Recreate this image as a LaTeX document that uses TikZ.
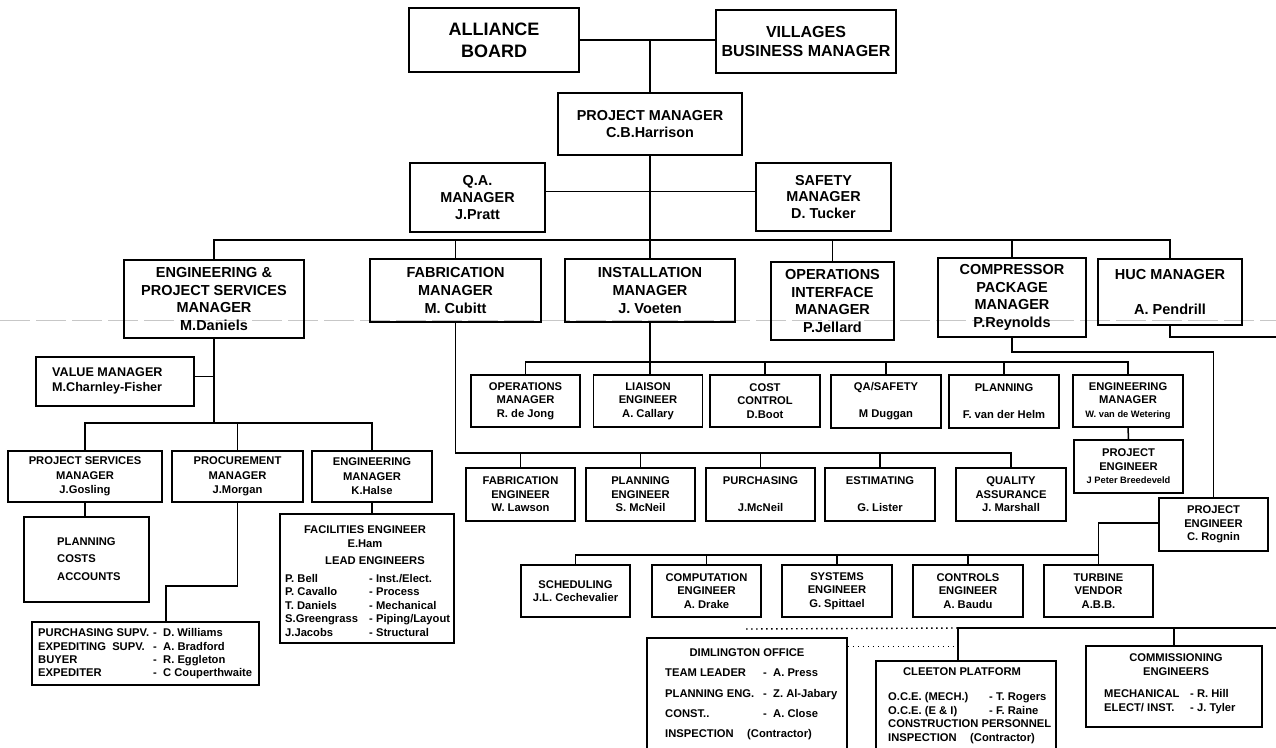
\documentclass[tikz,border=0pt]{standalone}
\usepackage{fontspec}
\setmainfont{Liberation Sans}
\begin{document}
\begin{tikzpicture}[x=1pt,y=-1pt,
  box/.style={draw=black, line width=1.6pt, inner sep=0pt, align=center, text=black, font=\bfseries\fontsize{11.2}{13.6}\selectfont},
  big/.style={font=\bfseries\fontsize{14.5}{17.6}\selectfont},
  txt/.style={inner sep=0pt, text=black, font=\bfseries\fontsize{11.2}{13.5}\selectfont},
  conn/.style={draw=black, line width=1.5pt},
  dots/.style={draw=black, line width=1.4pt, dash pattern=on 1.6pt off 3.4pt},
]
\useasboundingbox (0,0) rectangle (1276,747);
\clip (0,0) rectangle (1276,747);
\fill[white] (0,0) rectangle (1276,747);
\draw[black!22, line width=0.7pt, dash pattern=on 30pt off 6pt] (0,320) -- (1276,320);

% ---------- top ----------
\node[box, font=\bfseries\fontsize{18}{21.7}\selectfont, minimum width=170, minimum height=64] (alliance) at (494,40) {ALLIANCE\\BOARD};
\node[box, font=\bfseries\fontsize{16}{19.3}\selectfont, minimum width=180, minimum height=63] (villages) at (806,41.5) {VILLAGES\\BUSINESS MANAGER};
\node[box, font=\bfseries\fontsize{14.4}{17.7}\selectfont, minimum width=184, minimum height=62] (pm) at (650,124) {PROJECT MANAGER\\C.B.Harrison};
\node[box, font=\bfseries\fontsize{14.4}{16.7}\selectfont, minimum width=135, minimum height=69] (qa) at (477.5,197.5) {Q.A.\\MANAGER\\J.Pratt};
\node[box, font=\bfseries\fontsize{14.4}{16.7}\selectfont, minimum width=135, minimum height=68] (safety) at (823.5,197) {SAFETY\\MANAGER\\D. Tucker};

% ---------- level 2 ----------
\node[box, big, minimum width=180, minimum height=78] (eng) at (214,299) {ENGINEERING \&\\PROJECT SERVICES\\MANAGER\\M.Daniels};
\node[box, big, minimum width=171, minimum height=63] (fab) at (455.5,290.5) {FABRICATION\\MANAGER\\M. Cubitt};
\node[box, big, minimum width=170, minimum height=63] (inst) at (650,290.5) {INSTALLATION\\MANAGER\\J. Voeten};
\node[box, big, minimum width=123, minimum height=78] (ops) at (832.5,301) {OPERATIONS\\INTERFACE\\MANAGER\\P.Jellard};
\node[box, big, minimum width=148, minimum height=79] (comp) at (1012,297.5) {COMPRESSOR\\PACKAGE\\MANAGER\\P.Reynolds};
\node[box, big, minimum width=144, minimum height=66] (huc) at (1170,292) {HUC MANAGER\\\mbox{}\\A. Pendrill};

% ---------- engineering subtree ----------
\node[box, minimum width=158, minimum height=49] (value) at (115,381.5) {};
\node[txt, anchor=west, align=left, font=\bfseries\fontsize{12.6}{15}\selectfont] (valuetxt) at (52,380.5) {VALUE MANAGER\\M.Charnley-Fisher};
\node[box, font=\bfseries\fontsize{11.2}{14.6}\selectfont, minimum width=154, minimum height=51] (psm) at (85,476.5) {PROJECT SERVICES\\MANAGER\\J.Gosling};
\node[box, font=\bfseries\fontsize{11.2}{14.6}\selectfont, minimum width=131, minimum height=51] (proc) at (237.5,476.5) {PROCUREMENT\\MANAGER\\J.Morgan};
\node[box, font=\bfseries\fontsize{11.2}{14.6}\selectfont, minimum width=120, minimum height=51] (engm) at (372,476.5) {ENGINEERING\\MANAGER\\K.Halse};
\node[box, minimum width=125, minimum height=85] (pca) at (86.5,559.5) {};
\node[txt, anchor=west, align=left, font=\bfseries\fontsize{11.2}{17.5}\selectfont] (pcatxt) at (57,559) {PLANNING\\COSTS\\ACCOUNTS};
\node[box, minimum width=227, minimum height=63] (purch) at (145.5,653.5) {};
\node[txt, anchor=west, align=left, font=\bfseries\fontsize{11.2}{13.3}\selectfont] (purchtxt) at (38,654) {%
\makebox[115pt][l]{PURCHASING SUPV.}\makebox[10pt][l]{-}D. Williams\\
\makebox[115pt][l]{EXPEDITING\ \ SUPV.}\makebox[10pt][l]{-}A. Bradford\\
\makebox[115pt][l]{BUYER}\makebox[10pt][l]{-}R. Eggleton\\
\makebox[115pt][l]{EXPEDITER}\makebox[10pt][l]{-}C Couperthwaite};
\node[box, minimum width=174, minimum height=129] (fac) at (367,578.5) {};
\node[txt, align=center, font=\bfseries\fontsize{11.2}{13.3}\selectfont] (factitle) at (365,536.7) {FACILITIES ENGINEER\\E.Ham};
\node[txt] (faclead) at (375,560.7) {LEAD ENGINEERS};
\node[txt, anchor=west, align=left, font=\bfseries\fontsize{11.2}{13.5}\selectfont] (faclist) at (285,605.3) {%
\makebox[84pt][l]{P. Bell}- Inst./Elect.\\
\makebox[84pt][l]{P. Cavallo}- Process\\
\makebox[84pt][l]{T. Daniels}- Mechanical\\
\makebox[84pt][l]{S.Greengrass}- Piping/Layout\\
\makebox[84pt][l]{J.Jacobs}- Structural};

% ---------- installation subtree ----------
\node[box, minimum width=109, minimum height=52] (om) at (525.5,401) {OPERATIONS\\MANAGER\\R. de Jong};
\node[box, minimum width=109, minimum height=52] (li) at (648,401) {LIAISON\\ENGINEER\\A. Callary};
\node[box, minimum width=110, minimum height=52] (cc) at (765,401) {COST\\CONTROL\\D.Boot};
\node[box, minimum width=110, minimum height=53] (qs) at (886,401.5) {QA/SAFETY\\\mbox{}\\M Duggan};
\node[box, minimum width=110, minimum height=53] (pl) at (1004,401.5) {PLANNING\\\mbox{}\\F. van der Helm};
\node[box, minimum width=110, minimum height=52] (em) at (1128,401) {ENGINEERING\\MANAGER\\{\fontsize{9.3}{13.3}\selectfont W. van de Wetering}};
\node[box, minimum width=109, minimum height=53] (pe2) at (1128.5,466.5) {PROJECT\\ENGINEER\\{\fontsize{9.3}{13.3}\selectfont J Peter Breedeveld}};

% ---------- fabrication subtree ----------
\node[box, minimum width=109, minimum height=53] (fe) at (520.5,494.5) {FABRICATION\\ENGINEER\\W. Lawson};
\node[box, minimum width=109, minimum height=53] (pe) at (640.5,494.5) {PLANNING\\ENGINEER\\S. McNeil};
\node[box, minimum width=109, minimum height=53] (pur) at (760.5,494.5) {PURCHASING\\\mbox{}\\J.McNeil};
\node[box, minimum width=110, minimum height=53] (est) at (880,494.5) {ESTIMATING\\\mbox{}\\G. Lister};
\node[box, minimum width=110, minimum height=53] (qa2) at (1011,494.5) {QUALITY\\ASSURANCE\\J. Marshall};

% ---------- compressor subtree ----------
\node[box, minimum width=109, minimum height=53] (rog) at (1213.5,524.5) {PROJECT\\ENGINEER\\C. Rognin};
\node[box, minimum width=109, minimum height=52] (sch) at (575.5,591) {SCHEDULING\\J.L. Cechevalier};
\node[box, minimum width=109, minimum height=52] (comp2) at (706.5,591) {COMPUTATION\\ENGINEER\\A. Drake};
\node[box, minimum width=110, minimum height=52] (sys) at (837,591) {SYSTEMS\\ENGINEER\\G. Spittael};
\node[box, minimum width=110, minimum height=52] (ctl) at (968,591) {CONTROLS\\ENGINEER\\A. Baudu};
\node[box, minimum width=109, minimum height=52] (tur) at (1098.5,591) {TURBINE\\VENDOR\\A.B.B.};

% ---------- bottom ----------
\node[box, minimum width=200, minimum height=114] (dim) at (747,695) {};
\node[txt] (dimtitle) at (747,653) {DIMLINGTON OFFICE};
\node[txt, anchor=west, align=left, font=\bfseries\fontsize{11.2}{20.3}\selectfont] (dimlist) at (665,704.5) {%
\makebox[98pt][l]{TEAM LEADER}\makebox[10pt][l]{-}A. Press\\
\makebox[98pt][l]{PLANNING ENG.}\makebox[10pt][l]{-}Z. Al-Jabary\\
\makebox[98pt][l]{CONST..}\makebox[10pt][l]{-}A. Close\\
\makebox[82pt][l]{INSPECTION}(Contractor)};
\node[box, minimum width=180, minimum height=91] (cle) at (966,706.5) {};
\node[txt] (cletitle) at (962,672) {CLEETON PLATFORM};
\node[txt, anchor=west, align=left, font=\bfseries\fontsize{11.2}{13.5}\selectfont] (clelist) at (888,718) {%
\makebox[101pt][l]{O.C.E. (MECH.)}- T. Rogers\\
\makebox[101pt][l]{O.C.E. (E \& I)}- F. Raine\\
CONSTRUCTION PERSONNEL\\
\makebox[82pt][l]{INSPECTION}(Contractor)};
\node[box, minimum width=176, minimum height=81] (com) at (1174,686.5) {};
\node[txt, align=center, font=\bfseries\fontsize{11.2}{14}\selectfont] (comtitle) at (1176,665) {COMMISSIONING\\ENGINEERS};
\node[txt, anchor=west, align=left, font=\bfseries\fontsize{11.2}{13.3}\selectfont] (comlist) at (1104,701.5) {%
\makebox[86pt][l]{MECHANICAL}- R. Hill\\
\makebox[86pt][l]{ELECT/ INST.}- J. Tyler};

% ---------- connectors ----------
\coordinate (bus) at (0,240);
\coordinate (ebus) at (0,423);
\coordinate (ibus) at (0,362);
\coordinate (fbus) at (0,453);
\coordinate (rbus) at (0,555);
\coordinate (pbend) at (166,586);
\coordinate (hucR) at (1280,337);
\coordinate (cR) at (1280,628);
\coordinate (cdrop) at (958,628);
\coordinate (dotL) at (746,629);

\draw[conn] (alliance.east) -- (alliance.east -| villages.west);
\draw[conn] (pm.north) -- (pm.north |- alliance.east);
\draw[conn] ([yshift=6]qa.east) -- ([yshift=6]qa.east -| safety.west);
\draw[conn] (pm.south) -- (pm.south |- bus);
\draw[conn] (eng.north) -- (eng.north |- bus) -- (huc.north |- bus) -- (huc.north);
\draw[conn] (fab.north) -- (fab.north |- bus);
\draw[conn] (inst.north) -- (inst.north |- bus);
\draw[conn] (ops.north) -- (ops.north |- bus);
\draw[conn] (comp.north) -- (comp.north |- bus);

\draw[conn] (eng.south) -- (eng.south |- ebus);
\draw[conn] ([yshift=5]value.east) -- ([yshift=5]value.east -| eng.south);
\draw[conn] (psm.north) -- (psm.north |- ebus) -- (engm.north |- ebus) -- (engm.north);
\draw[conn] (proc.north) -- (proc.north |- ebus);
\draw[conn] (psm.south) -- (psm.south |- pca.north);
\draw[conn] (proc.south) |- (pbend) -- (pbend |- purch.north);
\draw[conn] (engm.south) -- (engm.south |- fac.north);

\draw[conn] (inst.south) -- (inst.south |- li.north);
\draw[conn] (om.north) -- (om.north |- ibus) -- (em.north |- ibus) -- (em.north);
\draw[conn] (cc.north) -- (cc.north |- ibus);
\draw[conn] (qs.north) -- (qs.north |- ibus);
\draw[conn] (pl.north) -- (pl.north |- ibus);
\draw[conn] (em.south) -- (pe2.north);

\draw[conn] (fab.south) -- (fab.south |- fbus) -- (qa2.north |- fbus) -- (qa2.north);
\draw[conn] (fe.north) -- (fe.north |- fbus);
\draw[conn] (pe.north) -- (pe.north |- fbus);
\draw[conn] (pur.north) -- (pur.north |- fbus);
\draw[conn] (est.north) -- (est.north |- fbus);

\draw[conn] (comp.south) -- ++(0,14) -| (rog.north);
\draw[conn] ([yshift=1.5]rog.west) -| (tur.north);
\draw[conn] (sch.north) -- (sch.north |- rbus) -- (tur.north |- rbus);
\draw[conn] (comp2.north) -- (comp2.north |- rbus);
\draw[conn] (sys.north) -- (sys.north |- rbus);
\draw[conn] (ctl.north) -- (ctl.north |- rbus);

\draw[conn] (huc.south) |- (hucR);
\draw[conn] (cR) -- (cdrop) -- (cdrop |- cle.north);
\draw[conn] (com.north) -- (com.north |- cR);
\draw[dots] (dotL) -- (cdrop);
\draw[dots] (dim.north east) ++(0,9) -- ++(111,0);
\end{tikzpicture}
\end{document}
